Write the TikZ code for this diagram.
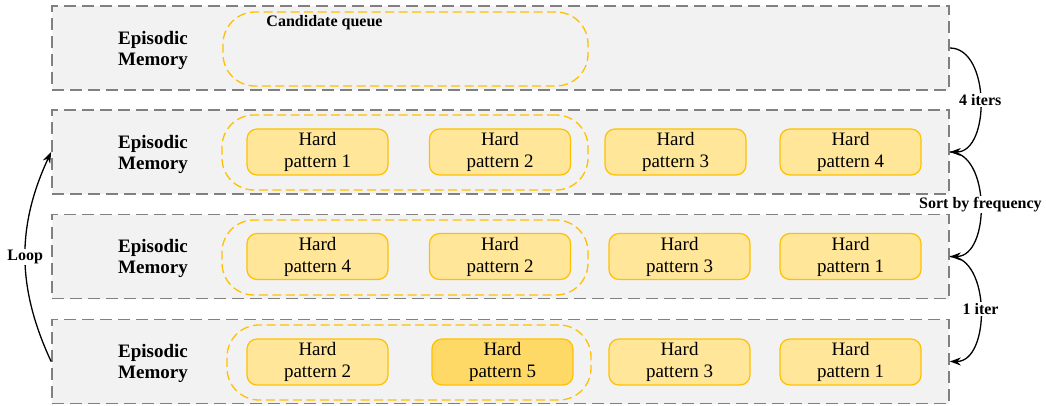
\documentclass[tikz,border=0pt]{standalone}
\usepackage{fontspec}
\setmainfont{Liberation Serif}
\usetikzlibrary{arrows.meta}
\definecolor{panelgray}{HTML}{F2F2F2}
\definecolor{edgegray}{HTML}{808080}
\definecolor{gold}{HTML}{FFC000}
\definecolor{goldlight}{HTML}{FFE699}
\definecolor{goldmid}{HTML}{FFD966}

\begin{document}
\begin{tikzpicture}[x=1pt,y=-1pt,
  memrow/.style={draw=edgegray, fill=panelgray, line width=1.7pt,
    dash pattern=on 12pt off 6pt, minimum width=897pt, minimum height=84pt, inner sep=0pt},
  queue/.style={draw=gold, line width=1.3pt, dash pattern=on 9pt off 4.5pt,
    rounded corners=32pt, minimum height=75pt, inner sep=0pt},
  hardbox/.style={draw=gold, fill=goldlight, line width=1.2pt, rounded corners=10pt,
    minimum width=141pt, minimum height=46pt, align=center, inner sep=0pt,
    font=\fontsize{19}{22}\selectfont},
  newbox/.style={hardbox, fill=goldmid},
  memlabel/.style={align=center, yshift=-2pt, font=\bfseries\fontsize{19}{21}\selectfont},
  steplabel/.style={fill=white, inner sep=1pt, font=\bfseries\fontsize{16}{18}\selectfont},
  flow/.style={-{Stealth[length=11pt,width=8pt]}, line width=1.3pt}
]
\useasboundingbox (0,0) rectangle (1046,406);

% memory rows
\node[memrow] (r1) at (500.5,48) {};
\node[memrow] (r2) at (500.5,152) {};
\node[memrow] (r3) at (500.5,256.5) {};
\node[memrow] (r4) at (500.5,361.5) {};

\node[memlabel] (m1) at (153,48) {Episodic\\Memory};
\node[memlabel] (m2) at (153,152) {Episodic\\Memory};
\node[memlabel] (m3) at (153,256.5) {Episodic\\Memory};
\node[memlabel] (m4) at (153,361.5) {Episodic\\Memory};

% candidate queues
\node[queue, minimum width=365pt, minimum height=74pt] (q1) at (405.5,49) {};
\node[font=\bfseries\fontsize{16}{18}\selectfont] (qt) at (324.5,23) {Candidate queue};
\node[queue, minimum width=366pt] (q2) at (405,152.5) {};
\node[queue, minimum width=366pt] (q3) at (405,257.5) {};
\node[queue, minimum width=364pt] (q4) at (409,362.5) {};

% row 2
\node[hardbox] (a1) at (317.5,152) {Hard\\pattern 1};
\node[hardbox] (a2) at (500,152) {Hard\\pattern 2};
\node[hardbox] (a3) at (675.5,152) {Hard\\pattern 3};
\node[hardbox] (a4) at (850.5,152) {Hard\\pattern 4};

% row 3
\node[hardbox] (b1) at (317.5,256.5) {Hard\\pattern 4};
\node[hardbox] (b2) at (500,256.5) {Hard\\pattern 2};
\node[hardbox] (b3) at (679.5,256.5) {Hard\\pattern 3};
\node[hardbox] (b4) at (850.5,256.5) {Hard\\pattern 1};

% row 4
\node[hardbox] (c1) at (317.5,362) {Hard\\pattern 2};
\node[newbox] (c2) at (502.5,362) {Hard\\pattern 5};
\node[hardbox] (c3) at (679.5,362) {Hard\\pattern 3};
\node[hardbox] (c4) at (850.5,362) {Hard\\pattern 1};

% transitions
\draw[flow] (r1.east) to[out=0,in=0] node[steplabel] {4 iters} (r2.east);
\draw[flow] (r2.east) to[out=0,in=0] node[steplabel] {Sort by frequency} (r3.east);
\draw[flow] (r3.east) to[out=0,in=0] node[steplabel] {1 iter} (r4.east);
\draw[flow] (r4.west) to[bend left=25] node[steplabel] {Loop} (r2.west);
\end{tikzpicture}
\end{document}
